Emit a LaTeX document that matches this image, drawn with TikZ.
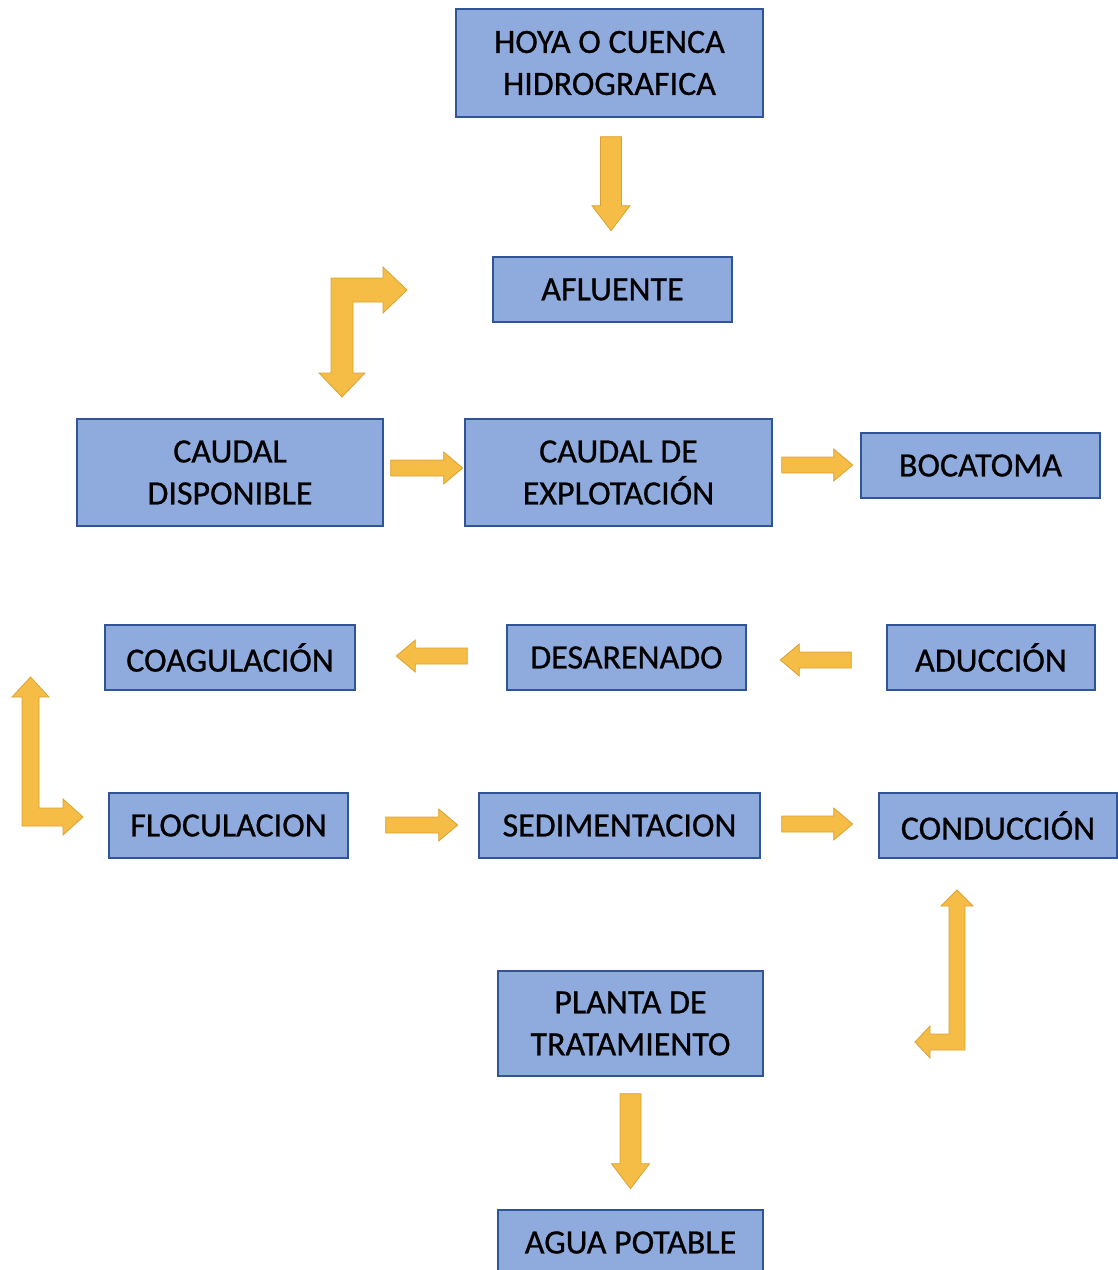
\documentclass[tikz,border=0pt]{standalone}
\usepackage{fontspec}
\setmainfont{Carlito}
\newfontfamily\boxfont{Carlito}[FakeBold=0.7]
\usepackage{tikz}
\usetikzlibrary{calc}
\usepackage{xcolor}

\definecolor{boxfill}{HTML}{8FAADC}
\definecolor{boxline}{HTML}{2F5597}
\definecolor{arrowfill}{HTML}{F5BD45}
\definecolor{arrowline}{HTML}{D9A232}

% flecha de bloque recta: punto de cola, angulo, largo
\newcommand{\blockarrow}[3]{%
  \begin{scope}[shift={#1}, rotate=#2]
    \filldraw[arrowbox] (0,-\bs) -- ({#3-\bh},-\bs) -- ({#3-\bh},-\bw) -- (#3,0)
      -- ({#3-\bh},\bw) -- ({#3-\bh},\bs) -- (0,\bs) -- cycle;
  \end{scope}}
\newcommand{\bigarrows}{\def\bs{10.5}\def\bw{19}\def\bh{25}}
\newcommand{\smallarrows}{\def\bs{8}\def\bw{16}\def\bh{19}}

\begin{document}
\begin{tikzpicture}[x=1pt, y=1pt,
    box/.style={draw=boxline, fill=boxfill, line width=1.4pt, align=center,
      inner sep=0pt, font=\boxfont\fontsize{34}{42}\selectfont},
    arrowbox/.style={fill=arrowfill, draw=arrowline, line width=0.8pt, line join=miter}]
    \useasboundingbox (0,0) rectangle (1118,-1270);

    % cajas del proceso
    \node[box, minimum width=307, minimum height=108] (hoya) at (609.5,-63) {HOYA O CUENCA\\HIDROGRAFICA};
    \node[box, minimum width=239, minimum height=65] (afluente) at (612.5,-289.5) {AFLUENTE};
    \node[box, minimum width=306, minimum height=107] (disponible) at (230,-472.5) {CAUDAL\\DISPONIBLE};
    \node[box, minimum width=307, minimum height=107] (explotacion) at (618.5,-472.5) {CAUDAL DE\\EXPLOTACIÓN};
    \node[box, minimum width=239, minimum height=65] (bocatoma) at (980.5,-465.5) {BOCATOMA};
    \node[box, minimum width=250, minimum height=65] (coagulacion) at (230,-657.5) {COAGULACIÓN};
    \node[box, minimum width=239, minimum height=65] (desarenado) at (626.5,-657.5) {DESARENADO};
    \node[box, minimum width=208, minimum height=65] (aduccion) at (991,-657.5) {ADUCCIÓN};
    \node[box, minimum width=239, minimum height=65] (floculacion) at (228.5,-825.5) {FLOCULACION};
    \node[box, minimum width=281, minimum height=65] (sedimentacion) at (619.5,-825.5) {SEDIMENTACION};
    \node[box, minimum width=238, minimum height=65] (conduccion) at (998,-825.5) {CONDUCCIÓN};
    \node[box, minimum width=265, minimum height=105] (planta) at (630.5,-1023.5) {PLANTA DE\\TRATAMIENTO};
    \node[box, minimum width=265, minimum height=65] (agua) at (630.5,-1242.5) {AGUA POTABLE};

    % flechas rectas
    \bigarrows
    \blockarrow{($(hoya.south)+(1.5,-19)$)}{-90}{94}
    \blockarrow{($(planta.south)+(0,-17)$)}{-90}{95}
    \smallarrows
    \blockarrow{($(disponible.east)+(7,4.5)$)}{0}{72}
    \blockarrow{($(explotacion.east)+(9,7.5)$)}{0}{71}
    \blockarrow{($(aduccion.west)+(-35,-2.5)$)}{180}{71}
    \blockarrow{($(desarenado.west)+(-39,1.5)$)}{180}{71}
    \blockarrow{($(floculacion.east)+(37,0.5)$)}{0}{72}
    \blockarrow{($(sedimentacion.east)+(21,1.5)$)}{0}{71}

    % flechas dobladas
    \filldraw[arrowbox] (331,-278) -- (383,-278) -- (383,-267) -- (407,-290) -- (383,-313)
      -- (383,-302) -- (353,-302) -- (353,-373) -- (365,-373) -- (342,-397) -- (319,-373)
      -- (331,-373) -- cycle;
    \filldraw[arrowbox] (22,-826) -- (22,-697) -- (12,-697) -- (30.5,-677) -- (49,-697)
      -- (39,-697) -- (39,-808) -- (63,-808) -- (63,-799) -- (83,-817) -- (63,-835)
      -- (63,-826) -- cycle;
    \filldraw[arrowbox] (965,-1050) -- (965,-906) -- (973,-906) -- (957,-890) -- (941,-906)
      -- (949,-906) -- (949,-1034) -- (930,-1034) -- (930,-1026) -- (915,-1042)
      -- (930,-1058) -- (930,-1050) -- cycle;
\end{tikzpicture}
\end{document}
